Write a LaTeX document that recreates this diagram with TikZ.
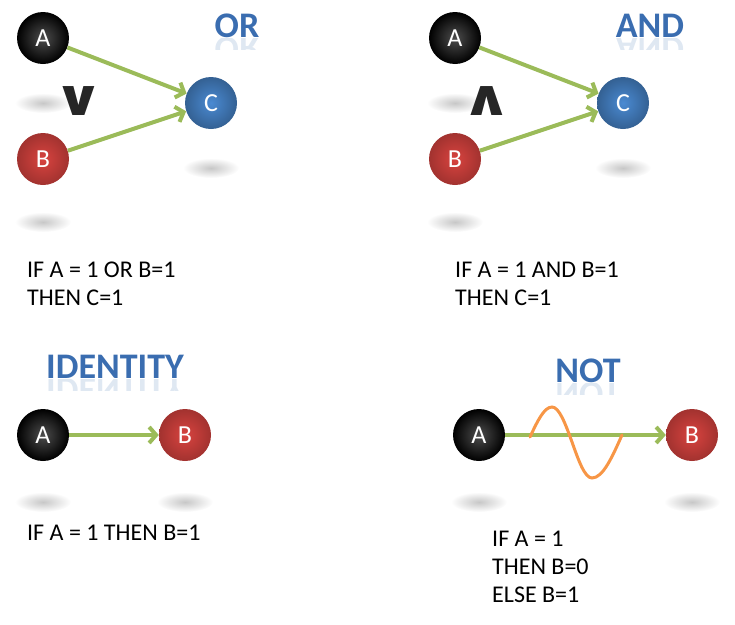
\documentclass[tikz,border=0pt]{standalone}
\usepackage{fontspec}
\setmainfont{Carlito}
\newfontfamily\opfont{DejaVu Sans}
\usetikzlibrary{arrows.meta}

\definecolor{linkgreen}{HTML}{9BBB59}
\definecolor{waveorange}{HTML}{F79646}
\definecolor{titleblue}{HTML}{3A6DB0}
\definecolor{ballred}{HTML}{D8433F}
\definecolor{ballblue}{HTML}{4A8AD2}

\tikzset{
  ball/.style={circle, minimum size=52pt, inner sep=0pt, text=white,
    font=\fontsize{26}{26}\selectfont},
  ballA/.style={ball, inner color=black!70, outer color=black},
  ballB/.style={ball, inner color=ballred, outer color=ballred!75!black},
  ballC/.style={ball, inner color=ballblue, outer color=ballblue!70!black},
  link/.style={draw=linkgreen, line width=4pt, -{Straight Barb[length=7pt,width=16pt]}},
  wave/.style={draw=waveorange, line width=3pt, line cap=round},
  title/.style={text=titleblue, anchor=base, font=\fontsize{36}{36}\selectfont\bfseries},
  mirror/.style={title, transform shape, yscale=-1, opacity=0.16},
  rule/.style={anchor=north west, inner sep=0pt, align=left,
    font=\fontsize{24}{28}\selectfont},
  opsym/.style={transform shape, xscale=1.25, text=black!85,
    font=\fontsize{50}{50}\opfont\bfseries},
  floor/.style={inner color=black!22, outer color=white}
}

\begin{document}
\begin{tikzpicture}[x=1pt, y=-1pt]
  \useasboundingbox (0,0) rectangle (735,624);

  % shadows under the balls
  \foreach \sx/\sy in {43/103, 43/222, 211/168, 455/103, 455/222, 623/168,
                       43/502, 185/502, 479/502, 692/502}
    \shade[floor] (\sx,\sy) ellipse [x radius=28pt, y radius=10pt];

  % reflections of the titles
  \foreach \word/\px/\py in {OR/237/37, AND/650/37, IDENTITY/115/378, NOT/588/382} {
    \begin{scope}
      \clip (\px-80,\py+1) rectangle (\px+80,\py+12);
      \node[mirror] (mirror\word) at (\px,\py) {\word};
    \end{scope}
  }

  % OR
  \node[title] (ortitle) at (237,37) {OR};
  \node[ballA] (orA) at (43,38) {A};
  \node[ballB] (orB) at (43,159) {B};
  \node[ballC] (orC) at (211,103) {C};
  \node[opsym] (orsym) at (79,101) {∨};
  \draw[link] (orA) -- (orC);
  \draw[link] (orB) -- (orC);
  \node[rule] (orrule) at (27,261.5) {IF A = 1 OR B=1\\THEN C=1};

  % AND
  \node[title] (andtitle) at (650,37) {AND};
  \node[ballA] (andA) at (455,38) {A};
  \node[ballB] (andB) at (455,159) {B};
  \node[ballC] (andC) at (623,103) {C};
  \node[opsym] (andsym) at (487,101) {∧};
  \draw[link] (andA) -- (andC);
  \draw[link] (andB) -- (andC);
  \node[rule] (andrule) at (455,261.5) {IF A = 1 AND B=1\\THEN C=1};

  % IDENTITY
  \node[title] (idtitle) at (115,378) {IDENTITY};
  \node[ballA] (idA) at (43,435) {A};
  \node[ballB] (idB) at (185,435) {B};
  \draw[link] (idA) -- (idB);
  \node[rule] (idrule) at (27,524.5) {IF A = 1 THEN B=1};

  % NOT
  \node[title] (nottitle) at (588,382) {NOT};
  \node[ballA] (notA) at (479,435) {A};
  \node[ballB] (notB) at (692,435) {B};
  \draw[link] (notA) -- (notB);
  \draw[wave] (530,437) sin (552,407) cos (572,442) sin (592,478) cos (622,435);
  \node[rule] (notrule) at (492,531) {IF A = 1\\THEN B=0\\ELSE B=1};
\end{tikzpicture}
\end{document}
